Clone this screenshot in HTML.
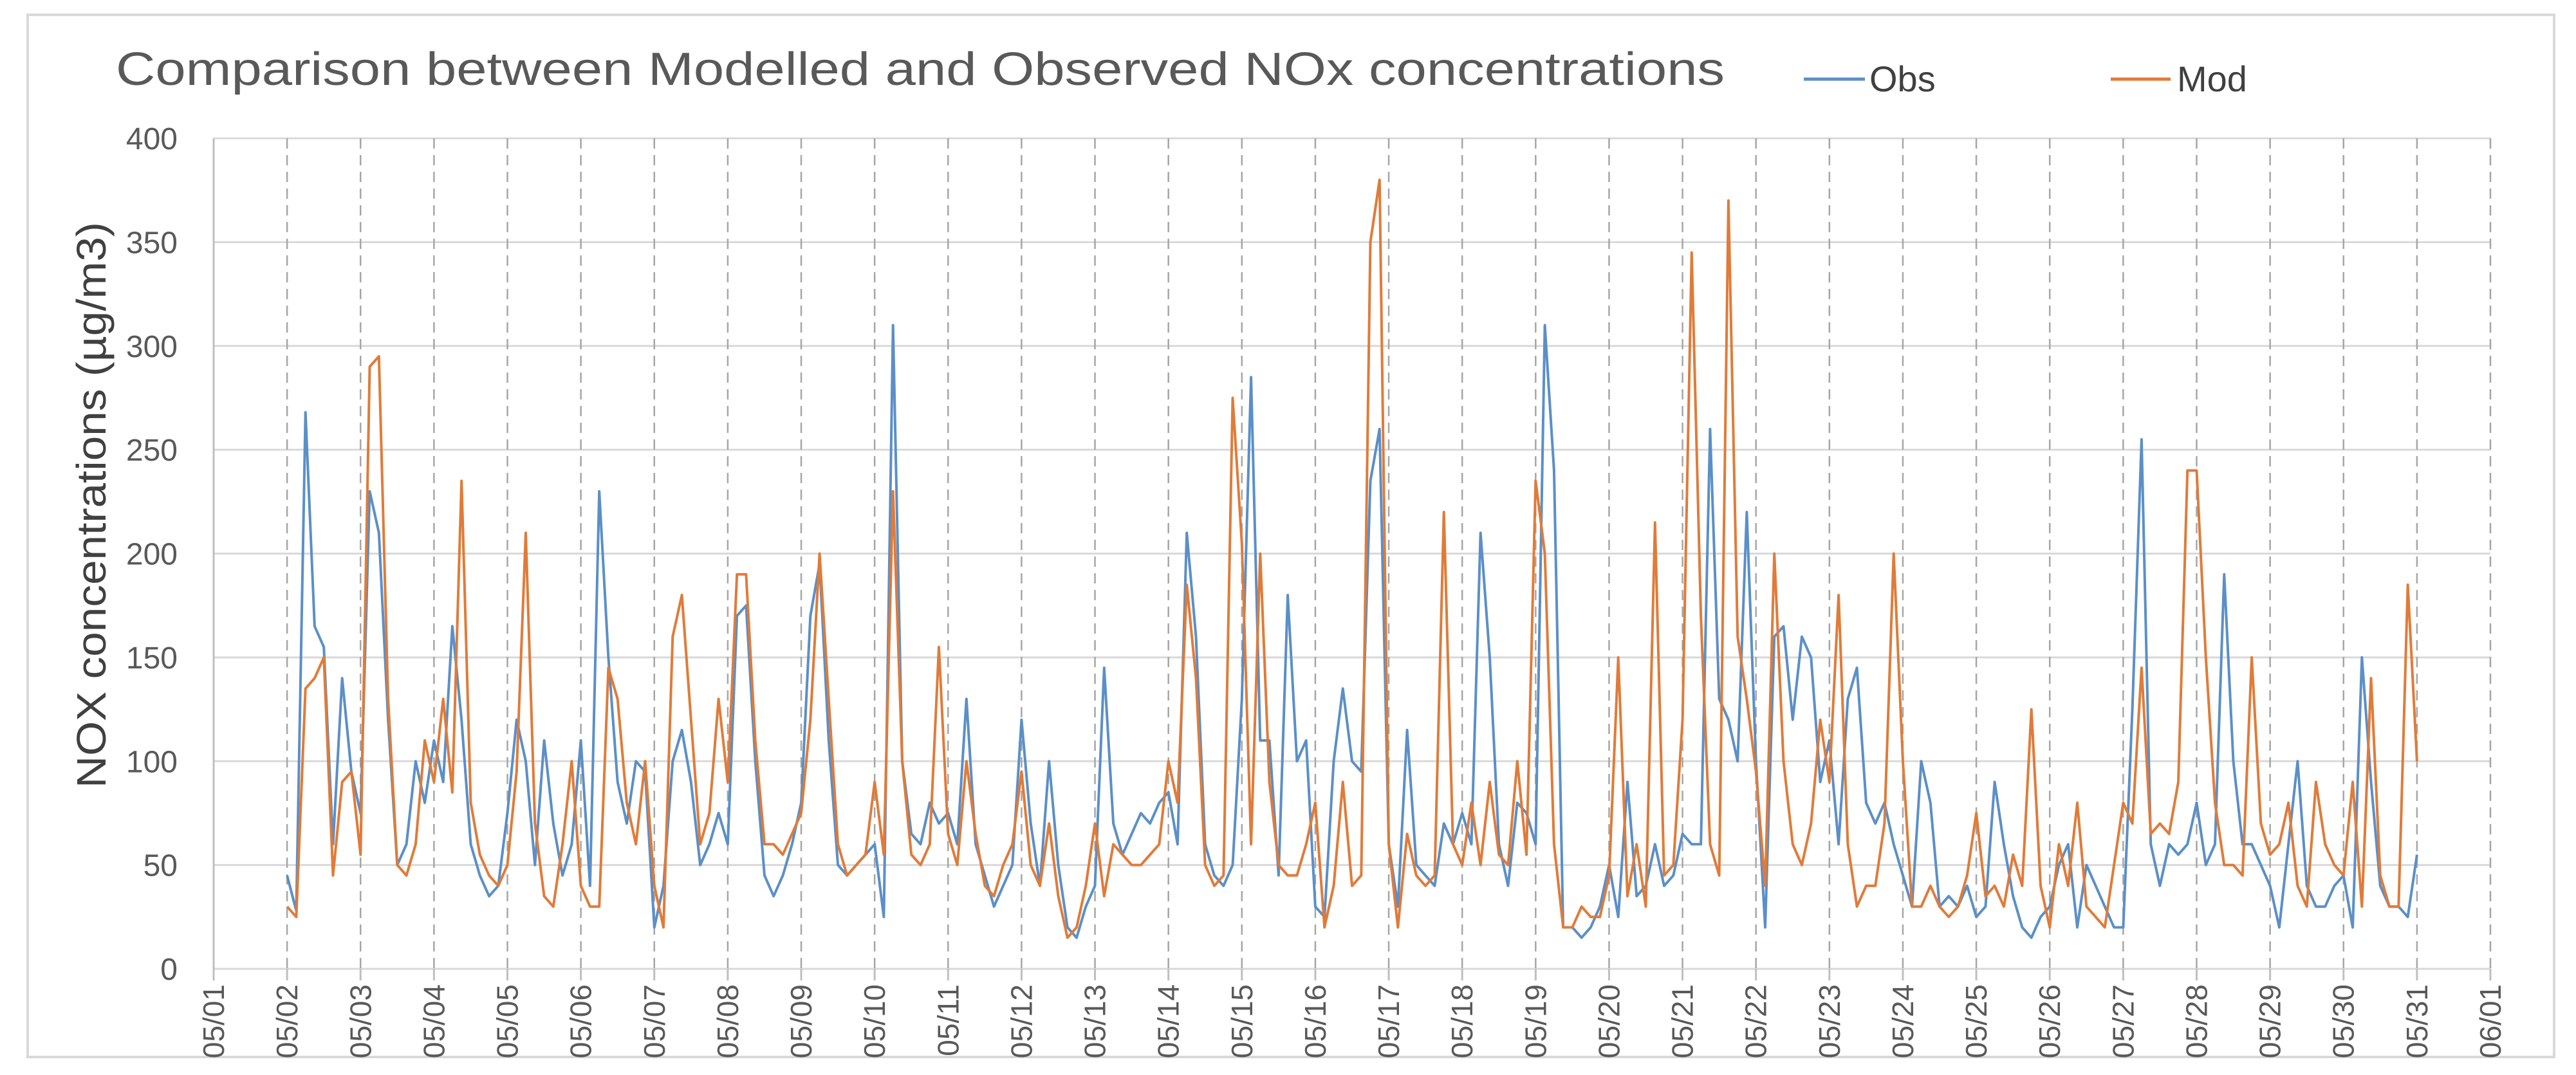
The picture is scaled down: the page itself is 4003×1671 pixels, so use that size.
<!DOCTYPE html>
<html><head><meta charset="utf-8"><style>
html,body{margin:0;padding:0;background:#fff;}
svg{display:block;font-family:"Liberation Sans",sans-serif;}
</style></head><body>
<svg id="chart" width="4003" height="1671" viewBox="0 0 4003 1671" xmlns="http://www.w3.org/2000/svg">
<rect x="43" y="23" width="3926" height="1620" fill="#fff" stroke="#d9d9d9" stroke-width="4"/>
<text x="180" y="132" font-size="72" fill="#595959" textLength="2500" lengthAdjust="spacingAndGlyphs">Comparison between Modelled and Observed NOx concentrations</text>
<g>
<line x1="2803" y1="123" x2="2898" y2="123" stroke="#5b8fc8" stroke-width="5"/>
<text x="2905" y="142" font-size="56" fill="#404040">Obs</text>
<line x1="3280" y1="123" x2="3373" y2="123" stroke="#e07b39" stroke-width="5"/>
<text x="3383" y="142" font-size="56" fill="#404040">Mod</text>
</g>
<text transform="translate(164,785) rotate(-90)" text-anchor="middle" font-size="64" fill="#404040" textLength="880" lengthAdjust="spacingAndGlyphs">NOX concentrations (µg/m3)</text>
<g id="grid"></g><g id="series"></g><g id="axes"></g>
</svg>
<script>
const yTicks=[0,50,100,150,200,250,300,350,400];
const xLabels=["05/01","05/02","05/03","05/04","05/05","05/06","05/07","05/08","05/09","05/10","05/11","05/12","05/13","05/14","05/15","05/16","05/17","05/18","05/19","05/20","05/21","05/22","05/23","05/24","05/25","05/26","05/27","05/28","05/29","05/30","05/31","06/01"];
const startDay=1; // series begins at 05/02 00:00, 3-hourly
const obs=[45,28,268,165,155,60,140,95, 75,230,210,120,50,60,100,80, 110,90,165,120,60,45,35,40, 75,120,100,50,110,70,45,60,
110,40,230,150,90,70,100,95, 20,40,100,115,90,50,60,75, 60,170,175,100,45,35,45,60, 80,170,195,110,50,45,50,55,
60,25,310,100,65,60,80,70, 75,60,130,60,45,30,40,50, 120,70,40,100,50,20,15,30, 40,145,70,55,65,75,70,80,
85,60,210,160,60,45,40,50, 130,285,110,110,45,180,100,110, 30,25,100,135,100,95,235,260, 60,30,115,50,45,40,70,60,
75,60,210,150,60,40,80,75, 60,310,240,20,20,15,20,30, 50,25,90,35,40,60,40,45, 65,60,60,260,130,120,100,220,
100,20,160,165,120,160,150,90, 110,60,130,145,80,70,80,60, 45,30,100,80,30,35,30,40, 25,30,90,60,35,20,15,25,
30,50,60,20,50,40,30,20, 20,125,255,60,40,60,55,60, 80,50,60,190,100,60,60,50, 40,20,60,100,40,30,30,40,
45,20,150,90,40,30,30,25, 55];
const mod=[30,25,135,140,150,45,90,95, 55,290,295,130,50,45,60,110, 90,130,85,235,80,55,45,40, 50,95,210,70,35,30,60,100,
40,30,30,145,130,80,60,100, 40,20,160,180,120,60,75,130, 90,190,190,110,60,60,55,65, 75,120,200,130,60,45,50,55,
90,55,230,100,55,50,60,155, 65,50,100,65,40,35,50,60, 95,50,40,70,35,15,20,40, 70,35,60,55,50,50,55,60,
100,80,185,140,50,40,45,275, 205,60,200,90,50,45,45,60, 80,20,40,90,40,45,350,380, 60,20,65,45,40,45,220,60,
50,80,50,90,55,50,100,55, 235,200,60,20,20,30,25,25, 45,150,35,60,30,215,45,50, 120,345,170,60,45,370,160,130,
95,40,200,100,60,50,70,120, 90,180,60,30,40,40,70,200, 100,30,30,40,30,25,30,45, 75,35,40,30,55,40,125,40,
20,60,40,80,30,25,20,50, 80,70,145,65,70,65,90,240, 240,150,80,50,50,45,150,70, 55,60,80,40,30,90,60,50,
45,90,30,140,45,30,30,185, 100];
const NS="http://www.w3.org/2000/svg";
const X0=332,X1=3870,Y0=1506,Y1=215;
const xs=d=>X0+(X1-X0)*d/31;
const ys=v=>Y0-(Y0-Y1)*v/400;
function mk(tag,attrs,parent){const e=document.createElementNS(NS,tag);for(const k in attrs)e.setAttribute(k,attrs[k]);parent.appendChild(e);return e;}
const grid=document.getElementById('grid'),axes=document.getElementById('axes'),series=document.getElementById('series');
yTicks.forEach(v=>{
  const l=mk('line',{x1:X0,x2:X1,y1:ys(v),y2:ys(v),stroke:'#d9d9d9','stroke-width':3},grid);
  
  
  const t=mk('text',{x:276,y:ys(v)+17,'text-anchor':'end','font-size':48,fill:'#595959'},axes);
  t.textContent=v;
  
  
});
xLabels.forEach((s,i)=>{
  const x=xs(i);
  if(i>0){const l=mk('line',{x1:x,x2:x,y1:Y1,y2:Y0,stroke:'#a6a6a6','stroke-width':2.5,'stroke-dasharray':'16 10'},grid);
  
  }
  const tk=mk('line',{x1:x,x2:x,y1:Y0,y2:Y0+18,stroke:'#bfbfbf','stroke-width':3},axes);
  
  
  const t=mk('text',{transform:`translate(${x+16},1530) rotate(-90)`,'text-anchor':'end','font-size':46,fill:'#595959'},axes);
  t.textContent=s;
  
  
});
const ax=mk('line',{x1:X0,x2:X0,y1:Y1,y2:Y0,stroke:'#bfbfbf','stroke-width':3},axes);


function draw(arr,color,name){
  const pts=arr.map((v,i)=>xs(startDay+i/8).toFixed(1)+','+ys(v).toFixed(1)).join(' ');
  const p=mk('polyline',{points:pts,fill:'none',stroke:color,'stroke-width':4,'stroke-linejoin':'round'},series);
  
  
}
draw(obs,'#5b8fc8','obs-series');
draw(mod,'#e07b39','mod-series');
</script>
</body></html>
